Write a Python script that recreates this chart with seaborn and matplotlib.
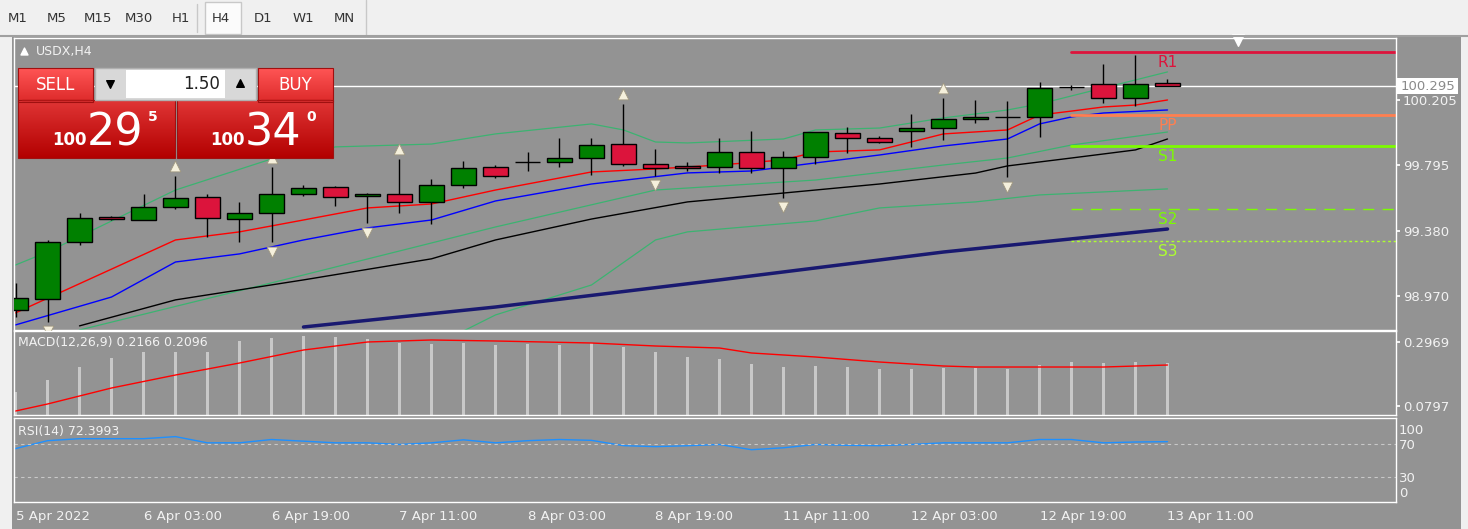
import numpy as np
import matplotlib
matplotlib.use("Agg")
import matplotlib.pyplot as plt
import seaborn as sns

sns.set_theme(style="dark")
plt.rcParams['font.family'] = ['DejaVu Sans']

# ---- data ----
opens  = [98.880, 98.950, 99.309, 99.467, 99.448, 99.530, 99.593, 99.454, 99.492, 99.612,
          99.656, 99.600, 99.612, 99.562, 99.669, 99.782, 99.813, 99.814, 99.839, 99.927,
          99.801, 99.789, 99.782, 99.877, 99.776, 99.845, 99.997, 99.965, 100.009, 100.028,
          100.085, 100.097, 100.097, 100.287, 100.306, 100.218, 100.312]
highs  = [99.051, 99.322, 99.492, 99.470, 99.612, 99.726, 99.612, 99.562, 99.782, 99.669,
          99.663, 99.618, 99.833, 99.707, 99.820, 99.795, 99.877, 99.965, 99.965, 100.180,
          99.896, 99.814, 99.965, 100.009, 99.883, 100.003, 100.035, 99.978, 100.117, 100.218,
          100.205, 100.199, 100.319, 100.300, 100.432, 100.489, 100.337]
lows   = [98.836, 98.805, 99.290, 99.450, 99.446, 99.517, 99.341, 99.309, 99.309, 99.600,
          99.536, 99.429, 99.492, 99.423, 99.650, 99.713, 99.757, 99.782, 99.732, 99.789,
          99.726, 99.757, 99.744, 99.744, 99.587, 99.801, 99.871, 99.934, 99.909, 99.953,
          100.060, 99.719, 99.972, 100.268, 100.186, 100.167, 100.293]
closes = [98.956, 99.309, 99.461, 99.454, 99.530, 99.587, 99.461, 99.492, 99.612, 99.650,
          99.593, 99.612, 99.562, 99.669, 99.776, 99.726, 99.815, 99.839, 99.921, 99.801,
          99.776, 99.776, 99.877, 99.776, 99.845, 100.003, 99.965, 99.940, 100.028, 100.085,
          100.097, 100.098, 100.281, 100.288, 100.218, 100.306, 100.293]

ema_fast_i = [0, 5, 7, 9, 11, 13, 15, 18, 20, 22, 24, 25, 27, 29, 31, 32, 33, 34, 35, 36]
ema_fast   = [98.862, 99.322, 99.373, 99.448, 99.524, 99.549, 99.637, 99.751, 99.770, 99.795,
              99.827, 99.877, 99.890, 99.991, 100.016, 100.110, 100.135, 100.161, 100.173, 100.205]
ema_mid_i  = [0, 3, 5, 7, 9, 11, 13, 15, 18, 21, 23, 25, 27, 29, 31, 32, 33, 34, 36]
ema_mid    = [98.786, 98.962, 99.183, 99.234, 99.322, 99.398, 99.448, 99.568, 99.675, 99.745,
              99.757, 99.808, 99.858, 99.915, 99.959, 100.054, 100.098, 100.123, 100.142]
ema_slow_i = [2, 5, 9, 13, 15, 18, 21, 24, 27, 30, 31, 33, 35, 36]
ema_slow   = [98.780, 98.944, 99.070, 99.203, 99.322, 99.454, 99.562, 99.618, 99.675, 99.744,
              99.789, 99.839, 99.890, 99.959]
bb_up_i  = [0, 1, 5, 8, 10, 13, 15, 18, 19, 20, 21, 24, 25, 27, 29, 31, 32, 34, 36]
bb_up    = [99.164, 99.246, 99.637, 99.833, 99.909, 99.927, 99.991, 100.054, 100.016, 99.940,
            99.934, 99.959, 100.016, 100.028, 100.092, 100.142, 100.180, 100.281, 100.382]
bb_mid_i = [2, 9, 15, 20, 25, 29, 31, 33, 36]
bb_mid   = [98.754, 99.101, 99.404, 99.637, 99.700, 99.795, 99.839, 99.921, 100.003]
bb_low_i = [14, 15, 18, 20, 21, 25, 27, 30, 32, 36]
bb_low   = [98.748, 98.849, 99.038, 99.322, 99.373, 99.442, 99.524, 99.562, 99.606, 99.644]
sma_long_i = [9, 15, 22, 29, 36]
sma_long   = [98.773, 98.899, 99.070, 99.246, 99.391]

frac_up = [5, 8, 12, 19, 29]
frac_dn = [1, 8, 11, 20, 24, 31]

pivot_names  = ['R1', 'PP', 'S1', 'S2', 'S3']
pivot_levels = [100.508, 100.110, 99.915, 99.518, 99.316]
price_ticks  = [100.205, 99.795, 99.380, 98.970]
last_price = 100.295

macd_hist = [0.1272, 0.1679, 0.2120, 0.2426, 0.2630, 0.2630, 0.2630, 0.3003, 0.3105, 0.3173,
             0.3139, 0.3071, 0.2935, 0.2901, 0.2935, 0.2867, 0.2901, 0.2867, 0.2935, 0.2799,
             0.2630, 0.2460, 0.2392, 0.2222, 0.2120, 0.2154, 0.2120, 0.2053, 0.2053, 0.2087,
             0.2087, 0.2053, 0.2188, 0.2290, 0.2256, 0.2290, 0.2256]
signal_i = [0, 1, 3, 5, 7, 9, 11, 13, 15, 18, 20, 22, 23, 25, 27, 29, 30, 34, 36]
signal   = [0.0627, 0.0865, 0.1408, 0.1849, 0.2256, 0.2697, 0.2969, 0.3037, 0.3003, 0.2935,
            0.2833, 0.2765, 0.2596, 0.2460, 0.2290, 0.2154, 0.2120, 0.2120, 0.2188]
rsi = [64, 73.6, 76, 76, 76, 78.5, 71, 71, 75, 73, 71, 71, 69, 71, 74.6, 71, 73.6, 75, 74, 67.6,
       66.4, 67.5, 69, 62.7, 65, 69, 68, 67.6, 69, 71, 71, 71, 75, 75, 71, 72, 72.4]

date_labels = ['5 Apr 2022', '6 Apr 03:00', '6 Apr 19:00', '7 Apr 11:00', '8 Apr 03:00',
               '8 Apr 19:00', '11 Apr 11:00', '12 Apr 03:00', '12 Apr 19:00', '13 Apr 11:00']
tabs = ['M1', 'M5', 'M15', 'M30', 'H1', 'H4', 'D1', 'W1', 'MN']

# ---- layout ----
W, H = 1468, 529
BG = '#939393'
FG = '#f2f2f2'
fig = plt.figure(figsize=(W / 100, H / 100), dpi=100)
fig.patch.set_facecolor('#f0f0f0')


def rect(x0, y0, x1, y1):
    return [x0 / W, 1 - y1 / H, (x1 - x0) / W, (y1 - y0) / H]


# gray back area behind panels + right scale
back = fig.add_axes(rect(0, 0, W, H), zorder=0)
back.set_xlim(0, W); back.set_ylim(H, 0); back.axis('off')
back.add_patch(plt.Rectangle((12, 36), 1449, 493, color=BG, lw=0))
back.add_patch(plt.Rectangle((0, 0), W, 36, color='#f0f0f0', lw=0))
back.add_patch(plt.Rectangle((0, 36), 12, 493, color='#f0f0f0', lw=0))

idx = np.arange(len(opens))
xl = ((14 - 15.5) / 32, (1396 - 15.5) / 32)

ax = fig.add_axes(rect(14, 38, 1396, 330), zorder=2)
ax.set_facecolor(BG)
ax.set_xlim(*xl)
ax.set_ylim(98.754, 100.596)

sns.lineplot(x=bb_up_i, y=bb_up, ax=ax, color='#3cb371', lw=0.9)
sns.lineplot(x=bb_mid_i, y=bb_mid, ax=ax, color='#3cb371', lw=0.9)
sns.lineplot(x=bb_low_i, y=bb_low, ax=ax, color='#3cb371', lw=0.9)
sns.lineplot(x=sma_long_i, y=sma_long, ax=ax, color='#191970', lw=2.5)
sns.lineplot(x=ema_slow_i, y=ema_slow, ax=ax, color='black', lw=1)
sns.lineplot(x=ema_mid_i, y=ema_mid, ax=ax, color='blue', lw=1)
sns.lineplot(x=ema_fast_i, y=ema_fast, ax=ax, color='red', lw=1)

o, h, l, c = map(np.array, (opens, highs, lows, closes))
ax.vlines(idx, l, h, color='black', lw=1, zorder=3)
cols = np.where(c > o, 'green', np.where(c < o, '#dc143c', 'black'))
ax.bar(idx, c - o, bottom=o, width=0.76, color=cols, edgecolor='black', lw=1, zorder=4)

ax.scatter(frac_up, h[frac_up] + 0.06, marker='^', s=60, color='#f5f0dc', edgecolor='#a09880', lw=0.6, zorder=5)
ax.scatter(frac_dn, l[frac_dn] - 0.06, marker='v', s=60, color='#f5f0dc', edgecolor='#a09880', lw=0.6, zorder=5)

ax.axhline(last_price, color='white', lw=1, zorder=1)
pv_col = ['#dc143c', '#ff7f50', '#7cfc00', '#7cfc00', '#adff2f']
pv_ls = ['-', '-', '-', (0, (8, 6)), (0, (2, 2))]
pv_lw = [2, 2, 2, 1, 1]
for name, lev, cc, ls, lw in zip(pivot_names, pivot_levels, pv_col, pv_ls, pv_lw):
    ax.plot([33, xl[1]], [lev, lev], color=cc, ls=ls, lw=lw, zorder=2)
    ax.text(36, lev - 0.02, name, color=cc, fontsize=11, ha='center', va='top')
ax.scatter([38.2], [100.585], marker='v', s=70, color='white', zorder=6, clip_on=False)

ax.yaxis.tick_right()
ax.set_yticks(price_ticks)
ax.set_yticklabels([f'{v:.3f}' for v in price_ticks])
ax.set_xticks([])

macd = fig.add_axes(rect(14, 331, 1396, 415), zorder=2)
macd.set_facecolor(BG)
macd.set_xlim(*xl)
macd.set_ylim(0.0492, 0.3342)
macd.bar(idx, macd_hist, width=0.1, color='#c8c8c8', lw=0)
sns.lineplot(x=signal_i, y=signal, ax=macd, color='red', lw=1)
macd.yaxis.tick_right()
macd.set_yticks([0.2969, 0.0797])
macd.set_yticklabels(['0.2969', '0.0797'])
macd.set_xticks([])
macd.text(0.003, 0.82, 'MACD(12,26,9) 0.2166 0.2096', transform=macd.transAxes, color=FG, fontsize=9)

rs = fig.add_axes(rect(14, 418, 1396, 502), zorder=2)
rs.set_facecolor(BG)
rs.set_xlim(*xl)
rs.set_ylim(-0.5, 101)
sns.lineplot(x=idx, y=rsi, ax=rs, color='#1e90ff', lw=1)
for lv in (70, 30):
    rs.axhline(lv, color='#c8c8c8', lw=0.8, ls=(0, (3, 3)))
rs.yaxis.tick_right()
rs.set_yticks([88, 70, 30, 11])
rs.set_yticklabels(['100', '70', '30', '0'])
rs.set_xticks(np.arange(0, 37, 4))
rs.set_xticklabels(date_labels, ha='left')
rs.text(0.003, 0.80, 'RSI(14) 72.3993', transform=rs.transAxes, color=FG, fontsize=9)

for a in (ax, macd, rs):
    for s in a.spines.values():
        s.set_color('white'); s.set_linewidth(1)
    a.tick_params(axis='y', colors='white', labelcolor=FG, labelsize=9.5, length=3, pad=2)
    a.tick_params(axis='x', colors='white', labelcolor=FG, labelsize=9.5, length=3, pad=3)
    a.set_ylabel(''); a.set_xlabel(''); a.grid(False)
rs.tick_params(axis='y', length=0)

# ---- overlay: tabs, trade panel, price tag ----
ov = fig.add_axes(rect(0, 0, W, H), zorder=10)
ov.set_xlim(0, W); ov.set_ylim(H, 0); ov.axis('off'); ov.patch.set_alpha(0)
tab_x = [18, 57, 98, 139, 181, 221, 263, 303, 344]
for tx, t in zip(tab_x, tabs):
    if t == 'H4':
        ov.add_patch(plt.Rectangle((205, 2), 36, 32, facecolor='#fbfbfb', edgecolor='#c8c8c8', lw=1))
    ov.text(tx, 18, t, color='#333333', fontsize=9.5, ha='center', va='center')
ov.plot([197, 197], [4, 32], color='#c8c8c8', lw=1)
ov.plot([366, 366], [0, 36], color='#c8c8c8', lw=1)
ov.plot([0, W], [36, 36], color='#a0a0a0', lw=1.5)

ov.scatter([24], [51], marker='^', s=25, color='white')
ov.text(36, 52, 'USDX,H4', color=FG, fontsize=9, va='center')


def gradient_box(x0, y0, x1, y1, top, bot):
    g = np.linspace(0, 1, 50)[:, None, None]
    t = np.array(matplotlib.colors.to_rgb(top)); b = np.array(matplotlib.colors.to_rgb(bot))
    img = t * (1 - g) + b * g
    ov.imshow(img, extent=(x0, x1, y1, y0), aspect='auto', zorder=11)
    ov.add_patch(plt.Rectangle((x0, y0), x1 - x0, y1 - y0, fill=False, edgecolor='#a01010', lw=0.8, zorder=12))


gradient_box(18, 68, 93, 102, '#ff5555', '#dd2a2a')
gradient_box(258, 68, 333, 102, '#ff5555', '#dd2a2a')
gradient_box(18, 100, 175, 158, '#e03535', '#b30000')
gradient_box(177, 100, 333, 158, '#e03535', '#b30000')
ov.add_patch(plt.Rectangle((95, 68), 161, 32, facecolor='#d8d8d8', edgecolor='#b0b0b0', lw=1, zorder=12))
ov.add_patch(plt.Rectangle((126, 70), 99, 28, facecolor='white', lw=0, zorder=13))
ov.scatter([110], [84], marker='v', s=30, color='black', zorder=14)
ov.scatter([240], [83], marker='^', s=30, color='black', zorder=14)
ov.text(220, 84, '1.50', fontsize=12, ha='right', va='center', color='#222222', zorder=14)
ov.text(56, 85, 'SELL', fontsize=12, ha='center', va='center', color='white', zorder=14)
ov.text(295, 85, 'BUY', fontsize=12, ha='center', va='center', color='white', zorder=14)
ov.plot([22, 90], [100, 100], color='#b01515', lw=1, zorder=13)
ov.plot([261, 330], [100, 100], color='#b01515', lw=1, zorder=13)
for bx, big, small in ((52, '29', '5'), (210, '34', '0')):
    ov.text(bx, 145, '100', fontsize=12, fontweight='bold', color='white', ha='left', va='baseline', zorder=14)
    ov.text(bx + 35, 145, big, fontsize=32, color='white', ha='left', va='baseline', zorder=14)
    ov.text(bx + 96, 121, small, fontsize=10, fontweight='bold', color='white', ha='left', va='baseline', zorder=14)

ov.add_patch(plt.Rectangle((1396, 78), 62, 16, facecolor='white', lw=0, zorder=12))
ov.text(1401, 86, '100.295', color='#8a8a8a', fontsize=9.5, va='center', zorder=13)

fig.savefig('out.png', dpi=100, facecolor=fig.get_facecolor())
